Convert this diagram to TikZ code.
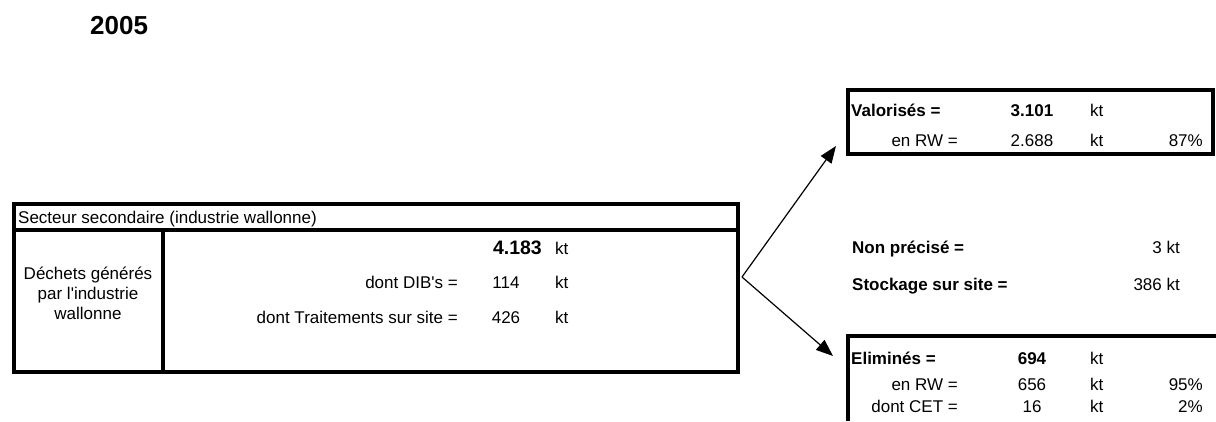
\documentclass[tikz,border=0pt]{standalone}
\usepackage{fontspec}
\setmainfont{Liberation Sans}
\usetikzlibrary{arrows.meta}
\begin{document}
\begin{tikzpicture}[x=1pt,y=-1pt,
  frame/.style={line width=3.5pt},
  txt/.style={inner sep=0pt,font=\fontsize{17}{19}\selectfont},
  btxt/.style={inner sep=0pt,font=\fontsize{17}{19}\selectfont\bfseries},
  big/.style={inner sep=0pt,font=\fontsize{19.5}{22}\selectfont\bfseries},
  flow/.style={line width=1.2pt,-{Triangle[length=17pt,width=13pt]}}]
\useasboundingbox (0,0) rectangle (1216,421);
% title
\node[inner sep=0pt,anchor=base west,font=\fontsize{26}{29}\selectfont\bfseries] (title) at (90,34) {2005};
% main box
\draw[frame] (14,204) rectangle (738,372);
\draw[frame] (14,230) -- (738,230);
\draw[frame] (163,230) -- (163,372);
\node[txt,anchor=base west] (sect) at (18,223) {Secteur secondaire (industrie wallonne)};
\node[txt,align=center,anchor=base] (dech) at (88,319) {Déchets générés\\[1pt]par l\textquotesingle industrie\\[1pt]wallonne};
\node[big,anchor=base east] (tot) at (542,254) {4.183};
\node[txt,anchor=base west] (totkt) at (555,254) {kt};
\node[txt,anchor=base east] (dib) at (458,288) {dont DIB\textquotesingle s =};
\node[txt,anchor=base] (dibv) at (506,288) {114};
\node[txt,anchor=base west] (dibkt) at (555,288) {kt};
\node[txt,anchor=base east] (trt) at (458,323) {dont Traitements sur site =};
\node[txt,anchor=base] (trtv) at (506,323) {426};
\node[txt,anchor=base west] (trtkt) at (555,323) {kt};
% arrows
\coordinate (v) at (742,277);
\coordinate (up) at (836,146);
\coordinate (dn) at (833,356);
\draw[flow] (v) -- (up);
\draw[flow] (v) -- (dn);
% valorises box
\draw[frame] (848,90) rectangle (1213,154);
\node[btxt,anchor=base west] (val) at (851,116) {Valorisés =};
\node[btxt,anchor=base] (valv) at (1032,116) {3.101};
\node[txt,anchor=base west] (valkt) at (1090,116) {kt};
\node[txt,anchor=base east] (valrw) at (958,146) {en RW =};
\node[txt,anchor=base] (valrwv) at (1032,146) {2.688};
\node[txt,anchor=base west] (valrwkt) at (1090,146) {kt};
\node[txt,anchor=base east] (valp) at (1203,146) {87\%};
% middle
\node[btxt,anchor=base west] (np) at (852,253) {Non précisé =};
\node[txt,anchor=base east] (npv) at (1180,253) {3 kt};
\node[btxt,anchor=base west] (st) at (852,290) {Stockage sur site =};
\node[txt,anchor=base east] (stv) at (1180,290) {386 kt};
% elimines box
\draw[frame] (848,421) -- (848,336) -- (1216,336);
\node[btxt,anchor=base west] (eli) at (851,364) {Eliminés =};
\node[btxt,anchor=base] (eliv) at (1032,364) {694};
\node[txt,anchor=base west] (elikt) at (1090,364) {kt};
\node[txt,anchor=base east] (elirw) at (958,390) {en RW =};
\node[txt,anchor=base] (elirwv) at (1032,390) {656};
\node[txt,anchor=base west] (elirwkt) at (1090,390) {kt};
\node[txt,anchor=base east] (elip) at (1203,390) {95\%};
\node[txt,anchor=base east] (cet) at (958,412) {dont CET =};
\node[txt,anchor=base] (cetv) at (1032,412) {16};
\node[txt,anchor=base west] (cetkt) at (1090,412) {kt};
\node[txt,anchor=base east] (cetp) at (1203,412) {2\%};
\end{tikzpicture}
\end{document}
